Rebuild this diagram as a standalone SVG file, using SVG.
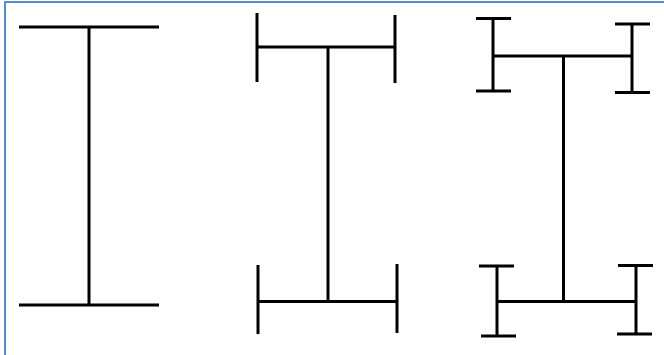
<svg xmlns="http://www.w3.org/2000/svg" width="664" height="355" viewBox="0 0 664 355">
<style>
.b{stroke:#000;stroke-width:3;fill:none;stroke-linecap:butt}
.f{stroke:#5b8ccb;stroke-width:2;fill:none}
</style>
<rect width="664" height="355" fill="#fff"/>
<path class="f" d="M5,355 V2 H664"/>
<g id="shape1">
<path class="b" d="M19,27 H159 M19,305 H159 M89,27 V305"/>
</g>
<g id="shape2">
<path class="b" d="M257,47 H395 M257,13 V82 M395,15 V83 M328,47 V301.5 M258,301.5 H397 M258,265 V334 M397,264 V333"/>
</g>
<g id="shape3">
<path class="b" d="M493,56 H632 M493,18.5 V91 M476,18.5 H511 M476,91 H511 M632,24 V92.5 M615,24 H650 M615,92.5 H650 M563.5,56 V301.5 M497,301.5 H636 M497,266 V336 M479,266 H514 M481,336 H516 M636,265.5 V334 M618,265.5 H653 M617,334 H652"/>
</g>
</svg>
